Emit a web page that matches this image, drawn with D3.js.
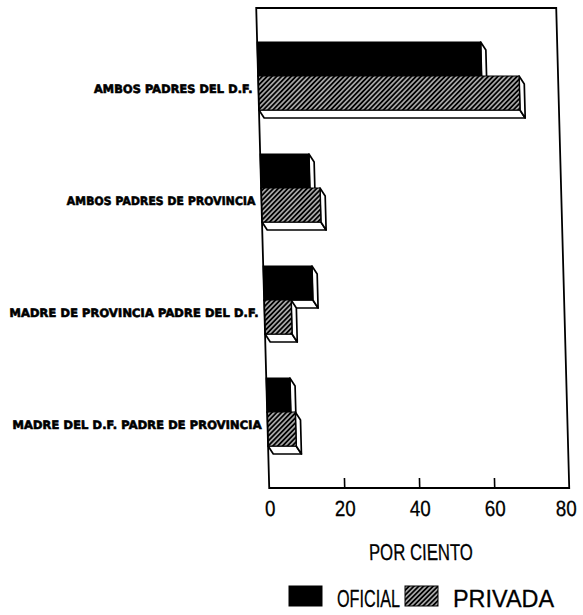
<!DOCTYPE html>
<html>
<head>
<meta charset="utf-8">
<script src="https://cdn.jsdelivr.net/npm/d3@7/dist/d3.min.js"></script>
<style>
  html, body { margin: 0; padding: 0; background: #fff; }
  svg { display: block; }
</style>
</head>
<body>
<div id="chart"></div>
<script>
// ---- data ----
const categories = [
  "AMBOS PADRES DEL D.F.",
  "AMBOS PADRES DE PROVINCIA",
  "MADRE DE PROVINCIA PADRE DEL D.F.",
  "MADRE DEL D.F. PADRE DE PROVINCIA"
];
const seriesNames = ["OFICIAL", "PRIVADA"];
const oficial = [59.6, 13.0, 13.0, 6.3];
const privada = [69.6, 15.7, 7.2, 7.5];
const tickValues = [0, 20, 40, 60, 80];
const axisTitle = "POR CIENTO";

// ---- layout ----
const W = 583, H = 615;
const frameTop = 8, frameBottom = 488;
const depthX = 5, depthY = 8;
const skewDeg = Math.atan(13 / 480) * 180 / Math.PI;
const narrowFont = "'Liberation Sans', Arial, sans-serif";

const svg = d3.select("#chart").append("svg")
  .attr("width", W).attr("height", H);

const defs = svg.append("defs");
const pat = defs.append("pattern")
  .attr("id", "hatch")
  .attr("patternUnits", "userSpaceOnUse")
  .attr("width", 3.4).attr("height", 3.4)
  .attr("patternTransform", "rotate(45)");
pat.append("rect").attr("width", 3.4).attr("height", 3.4).attr("fill", "#000");
pat.append("line").attr("x1", 1.7).attr("y1", 0).attr("x2", 1.7).attr("y2", 3.4)
  .attr("stroke", "#fff").attr("stroke-width", 1.1);

const g = svg.append("g").attr("transform", `skewX(${skewDeg})`);

const x = d3.scaleLinear().domain([0, 80]).range([256, 556]);
const y = d3.scaleBand().domain(categories).range([42, 446]).paddingInner(0.393).paddingOuter(0);
const bh = y.bandwidth() / 2;

const rows = categories.map((c, i) => ({ cat: c, vals: [oficial[i], privada[i]] }));

// bars with 3D extrusion
const fills = ["#000", "url(#hatch)"];
rows.forEach(r => {
  r.vals.forEach((v, s) => {
    const x0 = x(0), x1 = x(v);
    const y0 = y(r.cat) + s * bh, y1 = y0 + bh;
    const bar = g.append("g");
    bar.append("path")
      .attr("d", `M${x0},${y1} L${x0 + depthX},${y1 + depthY} L${x1 + depthX},${y1 + depthY} L${x1},${y1} Z`)
      .attr("fill", "#fff").attr("stroke", "#000").attr("stroke-width", 1.7).attr("stroke-linejoin", "round");
    bar.append("path")
      .attr("d", `M${x1},${y0} L${x1 + depthX},${y0 + depthY} L${x1 + depthX},${y1 + depthY} L${x1},${y1} Z`)
      .attr("fill", "#fff").attr("stroke", "#000").attr("stroke-width", 1.7).attr("stroke-linejoin", "round");
    bar.append("rect")
      .attr("x", x0).attr("y", y0).attr("width", x1 - x0).attr("height", bh)
      .attr("fill", fills[s]).attr("stroke", "#000").attr("stroke-width", 1.2);
  });
});

// frame
g.append("rect")
  .attr("x", x(0)).attr("y", frameTop)
  .attr("width", x(80) - x(0)).attr("height", frameBottom - frameTop)
  .attr("fill", "none").attr("stroke", "#000").attr("stroke-width", 1.8);

// tick marks inside
const tickAxis = d3.axisBottom(x).tickValues(tickValues.slice(1, -1)).tickSizeInner(-10).tickSizeOuter(0).tickFormat("");
const ta = g.append("g").attr("transform", `translate(0,${frameBottom})`).call(tickAxis);
ta.select(".domain").remove();
ta.selectAll(".tick line").attr("stroke", "#000").attr("stroke-width", 1.6);

// tick labels
const labelAxis = d3.axisBottom(x).tickValues(tickValues).tickSize(0).tickPadding(12);
const la = g.append("g").attr("transform", `translate(0,${frameBottom})`).call(labelAxis);
la.select(".domain").remove();
const lastTick = tickValues[tickValues.length - 1];
la.selectAll(".tick text")
  .attr("font-family", narrowFont)
  .attr("font-size", 22).attr("fill", "#000")
  .attr("stroke", "#000").attr("stroke-width", 0.3)
  .attr("dx", d => d === lastTick ? -4 : 0)
  .attr("textLength", d => String(d).length * 10.4)
  .attr("lengthAdjust", "spacingAndGlyphs");

// axis title
g.append("text")
  .attr("x", (x(0) + x(80)) / 2).attr("y", 560)
  .attr("text-anchor", "middle")
  .attr("font-family", narrowFont)
  .attr("font-size", 23)
  .attr("stroke", "#000").attr("stroke-width", 0.3)
  .attr("textLength", 104).attr("lengthAdjust", "spacingAndGlyphs")
  .text(axisTitle);

// category labels
g.selectAll(".cat").data(categories).join("text")
  .attr("class", "cat")
  .attr("x", x(0) - 6)
  .attr("y", d => y(d) + y.bandwidth() / 2 + 17)
  .attr("text-anchor", "end")
  .attr("font-family", "'DejaVu Sans', sans-serif")
  .attr("font-weight", "900")
  .attr("font-size", 11.5)
  .attr("fill", "#000")
  .attr("stroke", "#000").attr("stroke-width", 0.6)
  .attr("textLength", d => d.length * 7.55)
  .attr("lengthAdjust", "spacingAndGlyphs")
  .text(d => d);

// legend
const leg = svg.append("g");
const legItems = [
  { name: seriesNames[0], fill: fills[0], sx: 289, tx: 337, w: 63 },
  { name: seriesNames[1], fill: fills[1], sx: 405, tx: 453, w: 101 }
];
legItems.forEach(it => {
  leg.append("rect").attr("x", it.sx).attr("y", 586).attr("width", 33).attr("height", 20)
    .attr("fill", it.fill).attr("stroke", "#000").attr("stroke-width", 1);
  leg.append("text").attr("x", it.tx).attr("y", 607)
    .attr("font-family", narrowFont)
    .attr("font-size", 24)
    .attr("stroke", "#000").attr("stroke-width", 0.3)
    .attr("textLength", it.w).attr("lengthAdjust", "spacingAndGlyphs")
    .text(it.name);
});
</script>
</body>
</html>
